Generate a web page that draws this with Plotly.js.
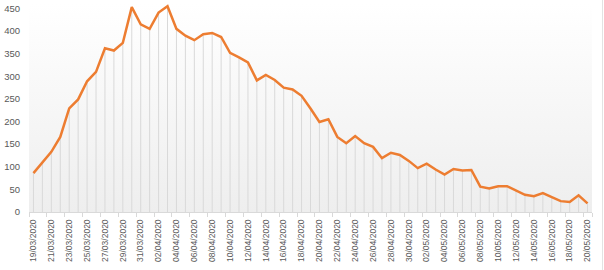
<!DOCTYPE html>
<html><head><meta charset="utf-8">
<script src="https://cdn.plot.ly/plotly-3.0.1.min.js"></script>
<style>html,body{margin:0;padding:0;background:#fff}#wrap{position:relative;width:604px;height:270px}#chart{width:604px;height:270px}#edge{position:absolute;left:602px;top:0;width:1px;height:270px;background:#e3e3e3}</style>
</head><body><div id="wrap"><div id="chart"></div><div id="edge"></div></div>
<script>
const dates = ["19/03/2020","20/03/2020","21/03/2020","22/03/2020","23/03/2020","24/03/2020","25/03/2020","26/03/2020","27/03/2020","28/03/2020","29/03/2020","30/03/2020","31/03/2020",
"01/04/2020","02/04/2020","03/04/2020","04/04/2020","05/04/2020","06/04/2020","07/04/2020","08/04/2020","09/04/2020","10/04/2020","11/04/2020","12/04/2020","13/04/2020","14/04/2020","15/04/2020","16/04/2020","17/04/2020","18/04/2020","19/04/2020","20/04/2020","21/04/2020","22/04/2020","23/04/2020","24/04/2020","25/04/2020","26/04/2020","27/04/2020","28/04/2020","29/04/2020","30/04/2020",
"01/05/2020","02/05/2020","03/05/2020","04/05/2020","05/05/2020","06/05/2020","07/05/2020","08/05/2020","09/05/2020","10/05/2020","11/05/2020","12/05/2020","13/05/2020","14/05/2020","15/05/2020","16/05/2020","17/05/2020","18/05/2020","19/05/2020","20/05/2020"];
const values = [86,110,133,166,229,249,289,310,362,357,374,453,415,405,441,455,405,390,380,393,396,387,352,342,331,291,303,292,275,271,257,229,199,205,166,152,168,152,144,119,131,126,113,97,107,94,83,95,92,93,56,52,57,57,47,38,35,42,33,24,22,37,19];
const yTicks = [0,50,100,150,200,250,300,350,400,450];
const tickDates = dates.filter((d,i)=>i%2===0);

const grad = '<svg xmlns="http://www.w3.org/2000/svg" width="100" height="100" preserveAspectRatio="none"><defs><linearGradient id="g" x1="0" y1="0" x2="0" y2="1"><stop offset="0" stop-color="#ffffff"/><stop offset="1" stop-color="#eeeeee"/></linearGradient></defs><rect width="100" height="100" fill="url(#g)"/></svg>';

const trace = {
  type:'scatter', mode:'lines', x:dates, y:values,
  line:{color:'#ED7D31', width:2.5},
  error_y:{type:'data', symmetric:false, array:values.map(()=>0), arrayminus:values, color:'#d9d9d9', thickness:1, width:0},
  hoverinfo:'x+y'
};
const layout = {
  width:604, height:270,
  margin:{l:29, r:11.5, t:3.8, b:58},
  paper_bgcolor:'#ffffff', plot_bgcolor:'rgba(0,0,0,0)',
  showlegend:false,
  font:{family:'"Liberation Sans", Arial, sans-serif', color:'#595959'},
  images:[{source:'data:image/svg+xml;charset=utf-8,'+encodeURIComponent(grad), xref:'paper', yref:'paper', x:0, y:1, sizex:1, sizey:1, sizing:'stretch', xanchor:'left', yanchor:'top', layer:'below'}],
  xaxis:{type:'category', range:[-0.5, dates.length-0.5], tickmode:'array', tickvals:tickDates, ticktext:tickDates,
    tickangle:-90, tickfont:{size:8.5, color:'#595959'}, tickson:'boundaries', ticks:'outside', ticklen:4, tickcolor:'#d9d9d9',
    ticklabelstandoff:3,
    showline:true, linecolor:'#d9d9d9', linewidth:1, showgrid:false, zeroline:false, fixedrange:true},
  yaxis:{range:[0,460], tickmode:'array', tickvals:yTicks, ticktext:yTicks.map(String), tickfont:{size:9.5, color:'#595959'},
    showgrid:false, zeroline:false, showline:false, ticks:'', ticklabelstandoff:8, fixedrange:true}
};
Plotly.newPlot('chart',[trace],layout,{displayModeBar:false, staticPlot:true});
</script></body></html>
